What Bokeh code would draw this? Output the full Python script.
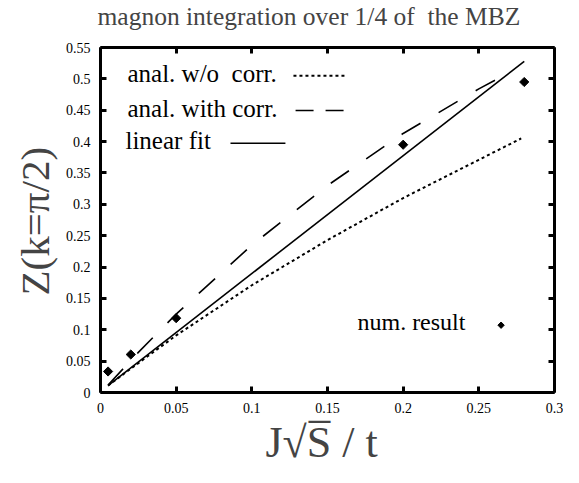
import math
from bokeh.plotting import figure
from bokeh.models import LinearAxis, FixedTicker, Range1d, Title
from bokeh.core.properties import value
from bokeh.embed import file_html
from bokeh.resources import INLINE

# ---- data ----
x_num = [0.005, 0.02, 0.05, 0.2, 0.28]
z_num = [0.0335, 0.0606, 0.1185, 0.395, 0.495]

x_fit = [0.005, 0.28]
z_fit = [0.011, 0.528]

x_nocorr = [0.005, 0.02, 0.05, 0.1, 0.15, 0.2, 0.25, 0.278]
z_nocorr = [0.011, 0.038, 0.091, 0.171, 0.243, 0.310, 0.371, 0.405]

x_corr = [0.005, 0.025, 0.05, 0.1, 0.15, 0.2, 0.25, 0.27]
z_corr = [0.012, 0.064, 0.125, 0.235, 0.33, 0.413, 0.484, 0.51]

x_ticks = [0, 0.05, 0.1, 0.15, 0.2, 0.25, 0.3]
x_tick_labels = ["0", "0.05", "0.1", "0.15", "0.2", "0.25", "0.3"]
y_ticks = [0, 0.05, 0.1, 0.15, 0.2, 0.25, 0.3, 0.35, 0.4, 0.45, 0.5, 0.55]
y_tick_labels = ["0", "0.05", "0.1", "0.15", "0.2", "0.25", "0.3", "0.35",
                 "0.4", "0.45", "0.5", "0.55"]

legend_labels = ["anal. w/o \u00a0corr.", "anal. with corr.", "linear fit"]
num_label = "num. result"
title_text = "magnon integration over 1/4 of \u00a0the MBZ"
x_label = "J\u221aS\u0305 / t"
y_label = "Z(k=\u03c0/2)"

# ---- layout constants (positions in data units) ----
LEG_TX = [0.0178, 0.0178, 0.0165]
LEG_TY = [0.509, 0.4535, 0.401]
LEG_SAMPLE_Y = [0.505, 0.4495, 0.3973]
LEG_SAMPLE = [(0.1275, 0.1619), (0.1289, 0.1652), (0.0859, 0.1222)]
NUM_TX, NUM_TY = 0.1698, 0.112
NUM_MX, NUM_MY = 0.2647, 0.1073

FONT = "Liberation Serif"

p = figure(width=563, height=467, output_backend="svg", toolbar_location=None,
           title=None,
           x_range=Range1d(0, 0.3), y_range=Range1d(0, 0.55),
           min_border_left=100, min_border_right=9, min_border_top=47,
           min_border_bottom=75, x_axis_location=None, y_axis_location=None)
p.grid.visible = False
p.outline_line_color = None
p.background_fill_color = "white"
p.border_fill_color = "white"


def make_axis(ticks, labels, show_labels):
    ax = LinearAxis(ticker=FixedTicker(ticks=ticks))
    ax.major_label_overrides = {t: (l if show_labels else "") for t, l in zip(ticks, labels)}
    ax.axis_line_width = 3
    ax.axis_line_color = "black"
    ax.major_tick_line_width = 3
    ax.major_tick_in = 6
    ax.major_tick_out = 0
    ax.minor_tick_line_color = None
    ax.major_label_text_font = FONT
    ax.major_label_text_font_size = "14px" if show_labels else "0px"
    ax.major_label_text_color = "black"
    ax.major_label_standoff = 10 if show_labels else 0
    return ax


p.add_layout(make_axis(x_ticks, x_tick_labels, True), "below")
p.add_layout(make_axis(y_ticks, y_tick_labels, True), "left")
top_axis = make_axis(x_ticks, x_tick_labels, False)
# blank spacer label pushes the title away from the frame
top_axis.axis_label = "\u00a0"
top_axis.axis_label_text_font_size = "11px"
top_axis.axis_label_standoff = 0
p.add_layout(top_axis, "above")
p.add_layout(make_axis(y_ticks, y_tick_labels, False), "right")

# ---- title and axis labels (as side-panel titles) ----
p.add_layout(Title(text=title_text, text_font=FONT, text_font_size="25.5px",
                   text_font_style="normal", align="left", offset=-3,
                   vertical_align="top", standoff=0), "above")
p.add_layout(Title(text=y_label, text_font=FONT, text_font_size="41px",
                   text_font_style="normal", align="left", offset=97,
                   vertical_align="bottom", standoff=10), "left")
p.add_layout(Title(text=x_label, text_font=FONT, text_font_size="44px",
                   text_font_style="normal", align="left", offset=165,
                   vertical_align="bottom", standoff=0), "below")

# ---- curves ----
p.line(x_nocorr, z_nocorr, line_color="black", line_width=2, line_dash="3 3")
p.line(x_corr, z_corr, line_color="black", line_width=1.6, line_dash="22 21")
p.line(x_fit, z_fit, line_color="black", line_width=1.6)
p.scatter(x_num, z_num, marker="square", angle=math.pi / 4, size=6.5, color="black")

# ---- legend (hand-made to match original layout) ----
styles = [dict(line_width=2, line_dash="3 3"), dict(line_width=1.6, line_dash="18 12"),
          dict(line_width=1.6)]
for (x0, x1), ty, st in zip(LEG_SAMPLE, LEG_SAMPLE_Y, styles):
    p.line([x0, x1], [ty, ty], line_color="black", **st)

p.text(x=LEG_TX, y=LEG_TY, text=legend_labels, text_font=value(FONT),
       text_font_size="25px", text_baseline="middle", text_align="left",
       text_color="black")
p.text(x=[NUM_TX], y=[NUM_TY], text=[num_label], text_font=value(FONT),
       text_font_size="24px", text_baseline="middle", text_align="left",
       text_color="black")
p.scatter([NUM_MX], [NUM_MY], marker="square", angle=math.pi / 4, size=4.5, color="black")

open("out.html", "w").write(file_html(p, INLINE))
